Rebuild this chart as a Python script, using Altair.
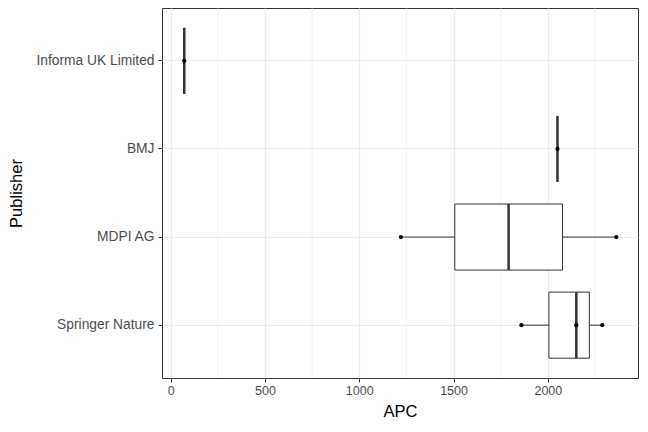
import altair as alt
import pandas as pd

publishers = ["Informa UK Limited", "BMJ", "MDPI AG", "Springer Nature"]
informa_apc = [72]
bmj_apc = [2051]
mdpi_apc = [1221, 2363]
springer_apc = [1860, 2151, 2289]
x_ticks = [0, 500, 1000, 1500, 2000]
minor_breaks = [250, 750, 1250, 1750, 2250]

rows = []
for pub, vals in zip(publishers, [informa_apc, bmj_apc, mdpi_apc, springer_apc]):
    for v in vals:
        rows.append({"Publisher": pub, "APC": v})
df = pd.DataFrame(rows)
minor_df = pd.DataFrame({"m": minor_breaks})

FONT = "Liberation Sans"
xscale = alt.Scale(domain=[-46, 2478], nice=False, zero=False)
yscale = alt.Scale(domain=publishers, paddingInner=0.25, paddingOuter=0.225)

base = alt.Chart(df)

stats = base.transform_aggregate(
    q1="q1(APC)", q3="q3(APC)", med="median(APC)", lo="min(APC)", hi="max(APC)",
    groupby=["Publisher"],
)

xaxis = alt.Axis(values=x_ticks, format="d", title="APC", grid=True, gridColor="#EBEBEB", gridWidth=1.2,
                 domain=False, tickColor="#333333", tickSize=4, labelPadding=2,
                 labelColor="#4D4D4D", labelFontSize=12.5, labelFont=FONT,
                 titleFont=FONT, titleFontSize=16.5, titleFontWeight="normal", titleColor="black",
                 titleX=238, titleY=33, titleBaseline="middle")
yaxis = alt.Axis(title="Publisher", grid=True, gridColor="#EBEBEB", gridWidth=1.2,
                 bandPosition=0.5, domain=False, tickColor="#333333", tickSize=4, labelPadding=4,
                 labelColor="#4D4D4D", labelFontSize=13.8, labelFont=FONT,
                 titleFont=FONT, titleFontSize=16.5, titleFontWeight="normal", titleColor="black",
                 titleX=-146, titleY=185, titleBaseline="middle", titleAngle=-90)

minor = alt.Chart(minor_df).mark_rule(color="#EBEBEB", strokeWidth=0.6).encode(
    x=alt.X("m:Q", scale=xscale, axis=xaxis)
)

whisk = stats.mark_rule(color="#333333", strokeWidth=1).encode(
    x=alt.X("lo:Q", scale=xscale, axis=xaxis),
    x2="hi:Q",
    y=alt.Y("Publisher:N", scale=yscale, axis=yaxis),
)

box = stats.mark_bar(fill="white", stroke="#333333", strokeWidth=1).encode(
    x=alt.X("q1:Q", scale=xscale),
    x2="q3:Q",
    y=alt.Y("Publisher:N", scale=yscale),
)

med = stats.mark_tick(color="#333333", thickness=2.5, size=66, opacity=1).encode(
    x=alt.X("med:Q", scale=xscale),
    y=alt.Y("Publisher:N", scale=yscale),
)

pts = base.mark_circle(color="black", size=18, opacity=1).encode(
    x=alt.X("APC:Q", scale=xscale),
    y=alt.Y("Publisher:N", scale=yscale),
)

chart = alt.layer(minor, whisk, box, med, pts).properties(
    width=476, height=370,
    autosize=alt.AutoSizeParams(type="none"),
    padding={"left": 154, "top": 0, "right": 2, "bottom": 46},
    background="white",
).configure_view(stroke="#333333", strokeWidth=1)

chart.save("out.html", embed_options={"renderer": "svg", "actions": False})
